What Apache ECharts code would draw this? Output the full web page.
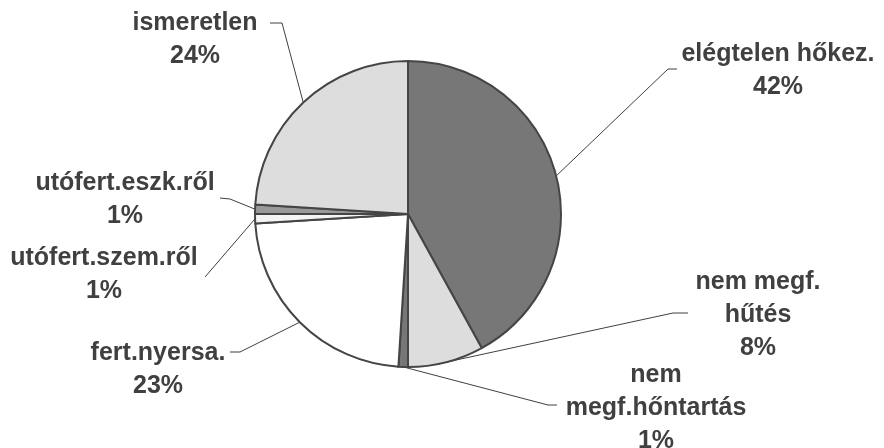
<!DOCTYPE html>
<html>
<head>
<meta charset="utf-8">
<script src="https://cdn.jsdelivr.net/npm/echarts@6/dist/echarts.min.js"></script>
<style>
html,body{margin:0;padding:0;background:#fff;}
#chart{width:884px;height:448px;}
</style>
</head>
<body>
<div id="chart"></div>
<script>
// Data
const categories = ['elégtelen hőkez.', 'nem megf.\nhűtés', 'nem\nmegf.hőntartás', 'fert.nyersa.', 'utófert.szem.ről', 'utófert.eszk.ről', 'ismeretlen'];
const values = [42, 8, 1, 23, 1, 1, 24];
const colors = ['#777777', '#dddddd', '#777777', '#ffffff', '#f4f4f4', '#999999', '#dddddd'];

// Layout (label anchor centres and leader-line elbow/end points)
const labelCenters = [[778, 71], [758, 315], [656, 408], [158, 370], [104, 275], [125, 200], [195, 40]];
const leaderPoints = [
  [[668, 69], [677, 69]],
  [[673, 313], [688, 313]],
  [[548, 405], [557, 405]],
  [[240, 352], [230, 352]],
  [[205, 277], [205, 277]],
  [[230, 199], [220, 198]],
  [[282, 23], [270, 23]]
];
const CX = 408, CY = 214, R = 153;

const total = values.reduce((a, b) => a + b, 0);
const midAngles = [];
let cum = 0;
values.forEach(v => { midAngles.push((cum + v / 2) / total * Math.PI * 2); cum += v; });

const chart = echarts.init(document.getElementById('chart'));
chart.setOption({
  animation: false,
  backgroundColor: '#ffffff',
  series: [{
    type: 'pie',
    center: [CX, CY],
    radius: R,
    startAngle: 90,
    clockwise: true,
    avoidLabelOverlap: false,
    data: categories.map((c, i) => ({ name: c, value: values[i], itemStyle: { color: colors[i] } })),
    itemStyle: { borderColor: '#454545', borderWidth: 2 },
    label: {
      show: true,
      position: 'outside',
      formatter: p => p.name + '\n' + p.value + '%',
      fontFamily: 'Liberation Sans, Arial, sans-serif',
      fontWeight: 'bold',
      fontSize: 25,
      lineHeight: 33,
      color: '#404040',
      align: 'center'
    },
    labelLine: { show: true, lineStyle: { color: '#404040', width: 1 } },
    emphasis: { disabled: true },
    labelLayout: function (params) {
      const i = params.dataIndex;
      const a = midAngles[i];
      const start = [CX + R * Math.sin(a), CY - R * Math.cos(a)];
      return {
        x: labelCenters[i][0],
        y: labelCenters[i][1],
        align: 'center',
        verticalAlign: 'middle',
        labelLinePoints: [start, leaderPoints[i][0], leaderPoints[i][1]]
      };
    }
  }]
});
</script>
</body>
</html>
